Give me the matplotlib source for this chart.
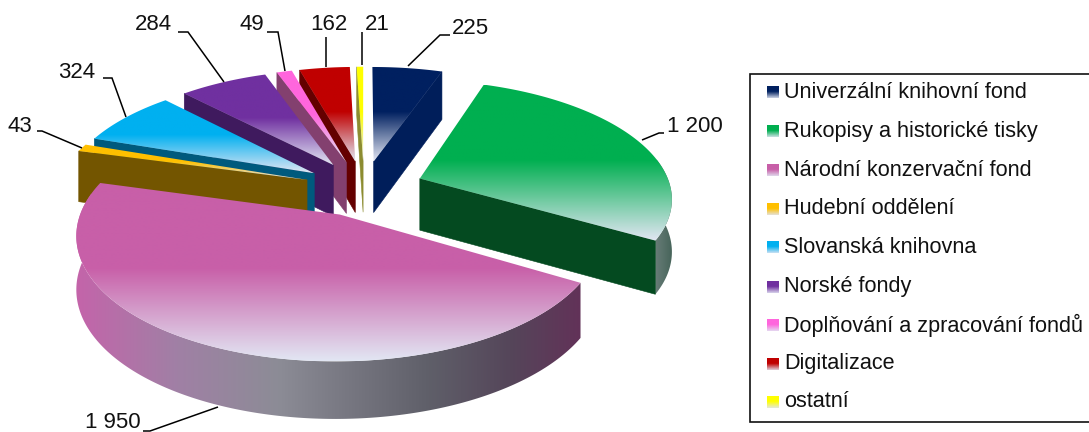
import numpy as np
import matplotlib
matplotlib.use("Agg")
import matplotlib.pyplot as plt
from matplotlib.patches import Polygon, Rectangle

plt.rcParams['font.family'] = ['Liberation Sans', 'DejaVu Sans']

# ---------- data ----------
names = ["Univerzální knihovní fond", "Rukopisy a historické tisky", "Národní konzervační fond",
         "Hudební oddělení", "Slovanská knihovna", "Norské fondy",
         "Doplňování a zpracování fondů", "Digitalizace", "ostatní"]
values = [225, 1200, 1950, 43, 324, 284, 49, 162, 21]
value_labels = ["225", "1 200", "1 950", "43", "324", "284", "49", "162", "21"]

# ---------- styles ----------
top_colors = ["#002060", "#00AF50", "#C85FA8", "#FFC000", "#00B0F0", "#7030A0", "#FF66DD", "#C00000", "#FFFF00"]
side_colors = ["#001E5A", "#044A20", "#6E4F6E", "#735500", "#005A7D", "#3F1A5E", "#83406F", "#640000", "#8C8C30"]
light = np.array([226, 230, 243]) / 255
arc_stops = {
    1: [(0, (105, 125, 120)), (1, (70, 100, 90))],
    2: [(0, (196, 100, 170)), (.2, (160, 128, 165)), (.4, (140, 140, 150)),
        (.7, (95, 95, 105)), (.86, (85, 70, 90)), (1, (98, 50, 88))],
}
# layout (pixels)
W, H = 1089, 432
CX, CY, RX, RY = 364, 188, 251, 116
PERSP, EXPLODE, DEPTH = 0.15, 0.24, 52
draw_order = [8, 7, 6, 5, 4, 3, 0, 1, 2]
# label: text left x, text centre y, leader points
leaders = {
    0: (452, 29, [(408, 66), (440, 35), (450, 35)]),
    1: (667, 127, [(642, 140), (659, 133), (664, 133)]),
    2: (85, 423, [(218, 407), (150, 431), (143, 431)]),
    3: (8, 127, [(82, 148), (42, 131), (37, 131)]),
    4: (58, 72, [(126, 117), (112, 78), (103, 78)]),
    5: (135, 25, [(224, 82), (188, 32), (178, 32)]),
    6: (240, 25, [(285, 71), (278, 32), (267, 32)]),
    7: (310, 25, [(326, 67), (326, 37)]),
    8: (365, 25, [(362, 65), (362, 32)]),
}
legend_box = (750, 74, 1095, 422)
legend_rows = [92.3, 131, 170, 208.7, 247.3, 286.7, 325, 364, 401.7]

fig = plt.figure(figsize=(W / 100, H / 100), dpi=100)
ax = fig.add_axes([0, 0, 1, 1])
_z = [1]


def next_z():
    _z[0] += 1
    return _z[0]


def to_rgb(c):
    return np.array(matplotlib.colors.to_rgb(c))


def project(theta, mid):
    t, m = np.radians(theta), np.radians(mid)
    X = np.sin(t) + EXPLODE * np.sin(m)
    Y = np.cos(t) + EXPLODE * np.cos(m)
    w = 1 + PERSP * Y
    return CX + RX * X / w, CY - RY * Y / w, DEPTH / np.sqrt(w)


def apex(mid):
    m = np.radians(mid)
    X, Y = EXPLODE * np.sin(m), EXPLODE * np.cos(m)
    w = 1 + PERSP * Y
    return CX + RX * X / w, CY - RY * Y / w, DEPTH / np.sqrt(w)


def gradient_clip(pts, img):
    pts = np.asarray(pts)
    x0, y0 = pts.min(axis=0)
    x1, y1 = pts.max(axis=0)
    im = ax.imshow(img, extent=(x0, x1, y1, y0), aspect='auto', interpolation='bilinear',
                   origin='upper', zorder=next_z())
    patch = Polygon(pts, closed=True, transform=ax.transData, fc='none', ec='none')
    ax.add_patch(patch)
    im.set_clip_path(patch)


def vertical_gradient(base, t0=0.48, n=200, end=1.0):
    t = np.linspace(0, 1, n)
    f = np.clip((t - t0) / (1 - t0), 0, 1) * end
    col = base[None, :] * (1 - f[:, None]) + light[None, :] * f[:, None]
    return col[:, None, :]


def horizontal_gradient(stops, n=300):
    xs = [s[0] for s in stops]
    t = np.linspace(0, 1, n)
    col = np.stack([np.interp(t, xs, [s[1][i] / 255 for s in stops]) for i in range(3)], axis=1)
    return col[None, :, :]


edges = np.concatenate([[0], np.cumsum(values)]) / np.sum(values) * 360

for i in draw_order:
    a0, a1 = edges[i], edges[i + 1]
    mid = (a0 + a1) / 2
    ax_, ay_, ad_ = apex(mid)
    th = np.linspace(a0, a1, max(int(a1 - a0) * 2, 6))
    px, py, pd = project(th, mid)

    # outer rim
    lo, hi = max(a0, 80), min(a1, 280)
    if hi > lo:
        ta = np.linspace(lo, hi, 200)
        qx, qy, qd = project(ta, mid)
        rim = np.vstack([np.c_[qx, qy], np.c_[qx, qy + qd][::-1]])
        if i in arc_stops:
            gradient_clip(rim, horizontal_gradient(arc_stops[i]))
        else:
            ax.add_patch(Polygon(rim, fc=side_colors[i], ec='none', zorder=next_z()))

    # radial faces turned to the viewer
    face_angles = []
    if a0 >= 180:
        face_angles.append(a0)
    if a1 <= 180:
        face_angles.append(a1)
    for fa in face_angles:
        fx, fy, fd = project(np.array([fa]), mid)
        ax.add_patch(Polygon([(ax_, ay_), (fx[0], fy[0]), (fx[0], fy[0] + fd[0]), (ax_, ay_ + ad_)],
                             fc=side_colors[i], ec=side_colors[i], lw=0.4, zorder=next_z()))

    # top face
    top = np.vstack([[(ax_, ay_)], np.c_[px, py]])
    gradient_clip(top, vertical_gradient(to_rgb(top_colors[i])))

# leaders and value labels
for i, (tx, ty, pts) in leaders.items():
    pts = np.array(pts)
    ax.plot(pts[:, 0], pts[:, 1], color='black', lw=1.1, solid_capstyle='butt',
            solid_joinstyle='miter', zorder=next_z())
    ax.text(tx, ty, value_labels[i], fontsize=16, color='#111111', ha='left', va='center', zorder=next_z())

# legend
lx0, ly0, lx1, ly1 = legend_box
ax.add_patch(Rectangle((lx0, ly0), lx1 - lx0, ly1 - ly0, fc='white', ec='#111111', lw=1.2,
                       zorder=next_z(), clip_on=False))
lz = next_z()
for i, y in enumerate(legend_rows):
    ax.imshow(vertical_gradient(to_rgb(top_colors[i]), t0=0.45, end=0.9),
              extent=(767, 779, y + 6, y - 6), aspect='auto', origin='upper', zorder=lz)
    ax.text(784, y, names[i], fontsize=15.6, color='#111111', ha='left', va='center', zorder=lz)

ax.set_xlim(0, W)
ax.set_ylim(H, 0)
ax.axis('off')
fig.savefig("out.png", dpi=100, facecolor='white')
